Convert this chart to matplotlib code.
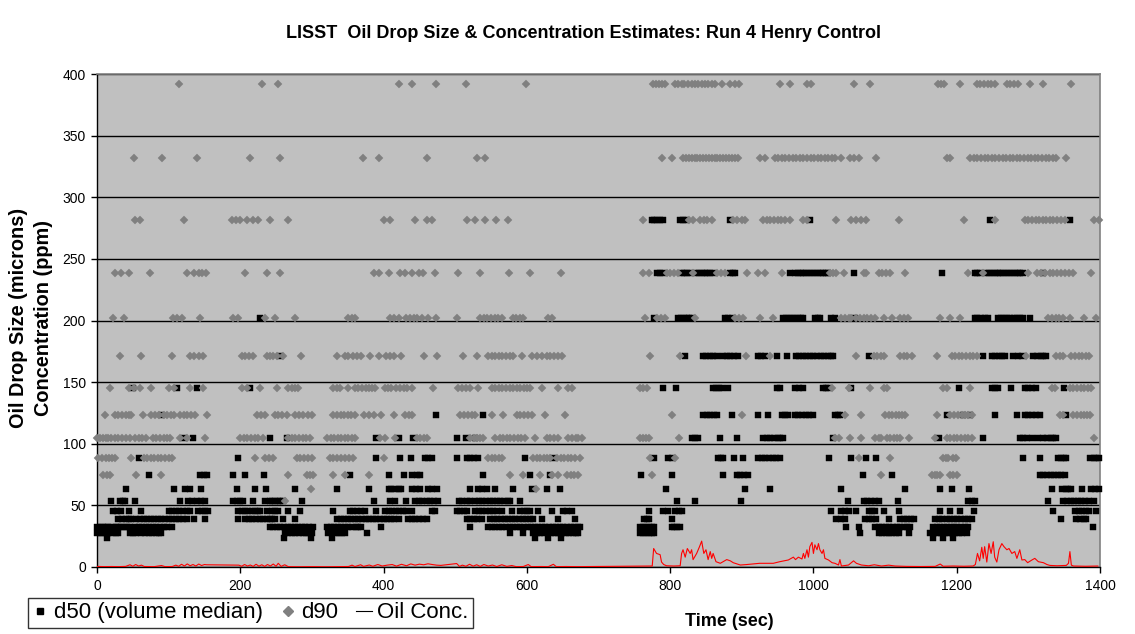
import matplotlib
matplotlib.use("Agg")
import matplotlib.pyplot as plt
from matplotlib.lines import Line2D

plt.rcParams['font.family'] = ['Liberation Sans', 'DejaVu Sans']

title = "LISST  Oil Drop Size & Concentration Estimates: Run 4 Henry Control"
y_label = "Oil Drop Size (microns)\nConcentration (ppm)"
x_label = "Time (sec)"
series_names = ["d50 (volume median)", "d90", "Oil Conc."]
x_ticks = [0, 200, 400, 600, 800, 1000, 1200, 1400]
y_ticks = [0, 50, 100, 150, 200, 250, 300, 350, 400]

# LISST size bins (microns) that the estimates fall on
size_bins = [392.0, 332.2, 281.5, 238.6, 202.2, 171.4, 145.2, 123.1, 104.3,
             88.4, 74.9, 63.5, 53.8, 45.6, 38.6, 32.7, 27.7, 23.5]

# ---- d90 : times (sec) at which d90 sits on each size bin ----
d90_392 = [114, 230, 252, 422, 439, 473, 515, 599, 776, 780, 785, 789, 793, 807, 811, 816, 820, 825, 830, 834, 839, 844, 848, 853, 858, 863, 872, 884, 890, 896, 953, 967, 991, 996, 1056, 1079, 1174, 1178, 1182, 1205, 1228, 1233, 1238, 1243, 1248, 1253, 1270, 1275, 1280, 1286, 1302, 1321, 1359]
d90_332 = [52, 91, 140, 213, 256, 371, 394, 460, 530, 541, 788, 802, 818, 822, 826, 830, 834, 838, 842, 846, 850, 854, 858, 862, 866, 870, 874, 878, 882, 886, 890, 895, 925, 932, 946, 951, 956, 961, 966, 971, 976, 981, 986, 991, 996, 1001, 1006, 1011, 1016, 1021, 1026, 1030, 1038, 1051, 1057, 1063, 1088, 1187, 1191, 1219, 1224, 1229, 1234, 1239, 1244, 1249, 1254, 1259, 1264, 1269, 1274, 1279, 1284, 1289, 1294, 1299, 1304, 1309, 1314, 1319, 1324, 1329, 1334, 1339, 1353]
d90_281 = [53, 60, 122, 188, 194, 200, 209, 218, 225, 241, 266, 400, 409, 444, 460, 467, 516, 527, 541, 557, 573, 762, 826, 832, 842, 847, 852, 858, 888, 894, 900, 905, 930, 935, 940, 945, 950, 955, 960, 967, 986, 991, 1032, 1053, 1060, 1067, 1074, 1119, 1210, 1253, 1295, 1300, 1305, 1310, 1315, 1320, 1325, 1330, 1335, 1340, 1345, 1351, 1391, 1398]
d90_238 = [25, 33, 44, 74, 125, 135, 142, 146, 152, 207, 237, 256, 386, 393, 407, 423, 430, 439, 449, 455, 472, 504, 535, 575, 605, 647, 762, 770, 795, 800, 806, 811, 832, 865, 871, 877, 907, 923, 932, 956, 1023, 1028, 1032, 1043, 1070, 1074, 1091, 1096, 1101, 1107, 1128, 1216, 1237, 1300, 1312, 1317, 1323, 1330, 1335, 1340, 1345, 1351, 1357, 1363, 1388]
d90_202 = [22, 37, 106, 112, 118, 144, 190, 197, 235, 248, 277, 351, 356, 360, 409, 415, 421, 432, 437, 442, 447, 453, 462, 473, 503, 535, 540, 545, 550, 555, 560, 565, 580, 585, 590, 594, 630, 635, 765, 781, 787, 793, 835, 890, 896, 902, 925, 944, 1039, 1044, 1049, 1053, 1060, 1065, 1070, 1075, 1080, 1086, 1098, 1110, 1121, 1126, 1132, 1177, 1191, 1205, 1328, 1333, 1338, 1343, 1349, 1358, 1377, 1395]
d90_171 = [32, 62, 104, 130, 136, 142, 148, 202, 207, 212, 218, 237, 241, 246, 251, 260, 285, 335, 346, 351, 357, 363, 369, 381, 393, 404, 409, 414, 425, 457, 474, 511, 530, 546, 551, 556, 561, 566, 571, 576, 581, 593, 607, 614, 621, 628, 633, 638, 643, 649, 772, 814, 906, 939, 1060, 1084, 1089, 1094, 1098, 1121, 1126, 1131, 1137, 1172, 1193, 1198, 1203, 1208, 1213, 1218, 1223, 1228, 1297, 1339, 1344, 1349, 1360, 1365, 1370, 1375, 1380, 1384]
d90_145 = [18, 44, 51, 60, 75, 100, 107, 130, 148, 202, 209, 227, 251, 267, 272, 277, 281, 330, 335, 339, 351, 360, 365, 370, 375, 380, 384, 388, 402, 406, 411, 418, 423, 428, 433, 439, 469, 504, 509, 515, 521, 532, 551, 556, 561, 566, 571, 576, 581, 586, 591, 596, 600, 604, 621, 644, 658, 663, 758, 762, 767, 1026, 1049, 1079, 1098, 1102, 1181, 1186, 1219, 1333, 1337, 1358, 1363, 1368, 1373, 1378, 1383, 1388]
d90_123 = [11, 25, 30, 35, 40, 44, 48, 64, 76, 81, 86, 94, 98, 103, 107, 116, 121, 126, 131, 137, 153, 223, 229, 235, 248, 253, 258, 265, 276, 282, 288, 294, 300, 330, 335, 340, 345, 350, 355, 360, 372, 379, 386, 397, 414, 430, 435, 439, 507, 512, 518, 523, 528, 551, 567, 586, 591, 596, 601, 607, 625, 653, 802, 900, 1044, 1066, 1100, 1105, 1110, 1115, 1120, 1124, 1128, 1172, 1191, 1196, 1202, 1207, 1212, 1216, 1221, 1344, 1348, 1363, 1368, 1373, 1378, 1382, 1386]
d90_104 = [0, 4, 8, 12, 16, 20, 25, 30, 35, 40, 46, 53, 58, 63, 69, 78, 83, 88, 93, 98, 102, 116, 125, 151, 200, 205, 210, 215, 220, 225, 232, 267, 272, 277, 282, 287, 292, 297, 321, 326, 331, 336, 341, 346, 351, 356, 360, 395, 402, 416, 446, 451, 456, 460, 521, 526, 531, 535, 539, 556, 562, 567, 572, 577, 582, 587, 592, 598, 611, 628, 633, 638, 644, 658, 663, 668, 672, 677, 758, 762, 766, 770, 813, 1030, 1035, 1051, 1067, 1086, 1091, 1095, 1102, 1107, 1112, 1116, 1121, 1133, 1170, 1186, 1191, 1196, 1201, 1206, 1211, 1216, 1221, 1392]
d90_88 = [2, 7, 12, 17, 21, 25, 48, 65, 70, 75, 80, 85, 90, 95, 100, 104, 221, 235, 240, 246, 279, 284, 289, 295, 300, 325, 330, 335, 340, 346, 352, 358, 400, 546, 551, 556, 561, 565, 609, 614, 619, 624, 628, 632, 642, 647, 652, 657, 662, 667, 674, 772, 807, 1063, 1107, 1181, 1185, 1188, 1195, 1199]
d90_75 = [9, 14, 18, 55, 89, 266, 293, 298, 302, 330, 346, 379, 576, 595, 618, 635, 644, 656, 661, 666, 672, 774, 1094, 1165, 1169, 1173, 1177, 1191, 1195, 1200]
d90_63 = [299, 613]
d90_54 = [262]
d90_46 = []
d90_39 = []
d90_33 = []
d90_28 = []
d90_23 = []

# ---- d50 : times (sec) at which d50 sits on each size bin ----
d50_392 = []
d50_332 = []
d50_281 = [774, 778, 782, 786, 790, 814, 818, 822, 884, 995, 1246, 1358]
d50_238 = [781, 786, 790, 816, 820, 824, 828, 836, 840, 844, 848, 852, 856, 860, 884, 888, 891, 967, 974, 978, 982, 986, 990, 994, 998, 1002, 1006, 1010, 1014, 1018, 1021, 1056, 1179, 1225, 1229, 1233, 1241, 1245, 1249, 1253, 1257, 1261, 1265, 1269, 1273, 1277, 1281, 1285, 1289, 1293, 1320]
d50_202 = [228, 777, 811, 815, 819, 823, 827, 830, 877, 881, 886, 958, 962, 966, 970, 974, 978, 982, 986, 1002, 1006, 1009, 1025, 1030, 1058, 1225, 1229, 1234, 1239, 1244, 1258, 1262, 1266, 1270, 1275, 1280, 1284, 1289, 1293, 1302]
d50_171 = [255, 821, 846, 850, 855, 860, 865, 874, 879, 884, 889, 895, 923, 927, 932, 949, 963, 976, 980, 985, 990, 995, 1000, 1005, 1010, 1015, 1020, 1025, 1028, 1077, 1237, 1249, 1254, 1259, 1263, 1267, 1279, 1285, 1291, 1307, 1312, 1317, 1321, 1325]
d50_145 = [50, 112, 139, 213, 790, 808, 860, 864, 868, 872, 881, 949, 953, 974, 980, 986, 1014, 1018, 1021, 1053, 1203, 1249, 1253, 1258, 1276, 1295, 1300, 1305, 1310, 1350]
d50_123 = [89, 473, 539, 846, 851, 856, 861, 865, 887, 923, 937, 956, 961, 965, 974, 979, 984, 989, 994, 1000, 1030, 1034, 1037, 1186, 1209, 1218, 1253, 1284, 1295, 1300, 1305, 1311, 1316, 1353]
d50_104 = [122, 134, 241, 265, 390, 421, 441, 502, 515, 528, 830, 834, 839, 870, 893, 930, 935, 940, 945, 950, 954, 958, 1028, 1175, 1236, 1288, 1293, 1298, 1305, 1313, 1321, 1326, 1331, 1335, 1339]
d50_88 = [58, 197, 390, 423, 438, 458, 462, 467, 502, 516, 521, 526, 532, 597, 637, 777, 797, 802, 867, 871, 874, 889, 901, 923, 928, 933, 938, 943, 948, 953, 1022, 1053, 1074, 1088, 1293, 1316, 1342, 1346, 1350, 1353, 1386, 1391, 1395, 1399]
d50_75 = [73, 144, 149, 153, 190, 207, 233, 353, 407, 428, 439, 446, 451, 539, 604, 632, 760, 802, 874, 893, 898, 903, 909, 1069, 1109, 1316, 1321, 1326, 1331, 1336, 1341, 1346, 1351]
d50_63 = [40, 107, 123, 130, 145, 196, 220, 236, 276, 335, 379, 407, 411, 416, 421, 425, 439, 445, 451, 462, 468, 474, 521, 532, 538, 544, 556, 581, 607, 628, 646, 794, 905, 939, 1039, 1128, 1177, 1193, 1217, 1333, 1347, 1352, 1356, 1360, 1375, 1388, 1393, 1398]
d50_54 = [20, 32, 36, 39, 53, 116, 127, 133, 139, 145, 151, 190, 195, 200, 204, 218, 235, 241, 244, 248, 252, 256, 260, 286, 386, 409, 416, 432, 444, 449, 454, 460, 465, 470, 476, 505, 510, 516, 521, 528, 533, 538, 543, 548, 553, 558, 563, 568, 573, 577, 591, 809, 834, 899, 1048, 1070, 1075, 1080, 1086, 1091, 1118, 1216, 1221, 1225, 1327, 1349, 1354, 1359, 1364, 1369, 1374, 1379, 1384, 1391]
d50_46 = [23, 28, 34, 44, 61, 100, 105, 110, 115, 120, 125, 130, 141, 146, 151, 155, 197, 202, 207, 211, 216, 221, 225, 228, 237, 244, 249, 253, 267, 284, 330, 353, 358, 363, 368, 374, 390, 402, 407, 412, 417, 422, 427, 432, 439, 468, 472, 502, 507, 512, 516, 528, 533, 538, 543, 548, 553, 558, 565, 579, 591, 596, 600, 604, 616, 635, 651, 656, 663, 770, 790, 797, 807, 812, 816, 1025, 1039, 1044, 1049, 1060, 1077, 1082, 1086, 1098, 1120, 1177, 1191, 1205, 1224, 1335, 1365, 1370, 1375, 1380, 1385, 1395]
d50_39 = [30, 35, 40, 44, 48, 55, 60, 65, 70, 75, 80, 85, 90, 95, 100, 105, 110, 115, 120, 125, 136, 151, 197, 207, 212, 217, 222, 227, 232, 237, 241, 244, 248, 260, 276, 335, 340, 345, 350, 355, 360, 365, 370, 375, 380, 385, 390, 395, 400, 405, 410, 415, 421, 434, 439, 444, 450, 455, 460, 516, 521, 526, 530, 537, 549, 554, 559, 564, 569, 574, 579, 584, 589, 594, 599, 604, 609, 621, 644, 667, 763, 767, 770, 802, 1032, 1038, 1044, 1072, 1077, 1082, 1088, 1105, 1121, 1126, 1131, 1136, 1140, 1170, 1175, 1180, 1186, 1191, 1196, 1201, 1206, 1211, 1216, 1221, 1346, 1367, 1372, 1377, 1381]
d50_33 = [0, 4, 8, 12, 16, 21, 26, 30, 34, 38, 42, 46, 53, 58, 63, 68, 73, 78, 83, 88, 93, 98, 104, 241, 246, 251, 256, 261, 266, 271, 276, 281, 286, 291, 296, 302, 321, 326, 331, 336, 341, 346, 351, 356, 361, 365, 369, 397, 521, 546, 551, 556, 561, 566, 571, 576, 581, 586, 591, 596, 601, 606, 611, 616, 621, 626, 631, 636, 641, 646, 651, 656, 661, 666, 671, 674, 758, 762, 766, 770, 774, 777, 802, 806, 810, 814, 1046, 1063, 1086, 1091, 1096, 1101, 1106, 1111, 1116, 1121, 1126, 1131, 1135, 1167, 1172, 1177, 1182, 1187, 1192, 1196, 1201, 1206, 1211, 1216, 1390]
d50_28 = [0, 4, 8, 12, 16, 21, 26, 30, 46, 50, 55, 62, 67, 72, 77, 82, 86, 90, 262, 267, 272, 277, 282, 287, 292, 296, 300, 323, 328, 333, 338, 342, 346, 377, 576, 594, 609, 614, 619, 624, 629, 634, 639, 644, 649, 654, 659, 664, 668, 672, 758, 762, 766, 770, 774, 777, 1065, 1091, 1096, 1101, 1106, 1110, 1115, 1119, 1133, 1163, 1168, 1173, 1178, 1183, 1188, 1193, 1198, 1203, 1208, 1214]
d50_23 = [14, 261, 299, 328, 611, 630, 648, 1167, 1181, 1195]

# ---- Oil concentration (ppm) ----
oil_time = [0, 10, 20, 30, 40, 46, 50, 54, 58, 62, 66, 80, 90, 95, 105, 110, 114, 118, 122, 126, 130, 134, 138, 142, 146, 150, 153,
            198, 202, 206, 210, 214, 218, 222, 226, 230, 234, 238, 242, 246, 250, 253, 257, 262, 267,
            280, 300, 320, 340, 351, 356, 360, 368, 372, 380, 385, 392, 398, 405, 412, 418, 425, 432, 438, 444, 450, 456, 462, 468, 474, 480,
            502, 506, 510, 515, 520, 525, 530, 535, 540, 546, 552, 558, 565, 572, 579, 585, 595, 602, 606, 620, 630, 637, 641, 655, 670, 760,
            770, 775, 777, 781, 786, 788, 791, 795, 805, 814, 816, 818, 821, 824, 828, 830, 832, 837, 841, 844, 847, 850, 853, 856, 858, 860, 864, 870, 879, 884, 888, 898, 907,
            925, 944, 953, 965, 972, 975, 979, 984, 986, 988, 991, 993, 995, 998, 1000, 1002, 1005, 1007, 1009, 1012, 1014, 1016, 1021, 1026, 1030, 1035, 1037, 1039,
            1049, 1056, 1060, 1067, 1077, 1085, 1095, 1105, 1114, 1130, 1150, 1170, 1177, 1181, 1195, 1210, 1223,
            1226, 1229, 1232, 1235, 1237, 1239, 1242, 1245, 1248, 1251, 1253, 1256, 1259, 1263, 1266, 1270, 1273, 1277, 1281, 1284, 1288, 1291, 1295, 1299, 1305, 1309, 1314, 1321, 1326, 1330, 1340, 1353, 1356, 1358, 1360, 1363, 1380, 1397]
oil_conc = [0.5, 0.3, 0.4, 0.3, 0.5, 1.8, 0.6, 2.0, 0.8, 1.5, 0.4, 0.3, 1.2, 0.3, 0.4, 1.5, 0.6, 2.2, 0.8, 2.5, 1.0, 2.0, 0.8, 2.4, 1.2, 2.0, 1.8,
            1.5, 0.6, 2.0, 0.8, 1.6, 0.5, 2.2, 0.7, 1.8, 0.5, 2.0, 0.8, 2.4, 0.6, 3.0, 0.5, 1.8, 0.3,
            0.2, 0.3, 0.2, 0.3, 0.4, 1.5, 0.4, 1.8, 0.5, 1.6, 0.6, 2.0, 0.8, 1.5, 2.0, 0.7, 2.2, 1.0, 2.5, 1.5, 2.3, 1.8, 2.6, 2.0, 1.5, 1.3,
            2.8, 0.5, 1.5, 0.6, 2.2, 0.7, 1.8, 0.5, 2.0, 0.8, 1.6, 0.4, 1.8, 0.5, 1.2, 0.3, 0.4, 2.0, 0.3, 0.4, 0.3, 2.2, 0.3, 0.4, 0.3, 0.8,
            0.8, 0.8, 15, 11, 10, 4, 2, 1, 0.8, 1, 11, 14, 8, 15, 11, 14, 6, 11, 16.5, 21, 11, 14, 6, 12.5, 7, 11, 4.3, 3, 6, 5, 3.5, 1.6, 2,
            3, 3, 4.3, 5.7, 8, 6, 8, 6.5, 11, 7, 14, 8, 16.5, 20, 11, 18, 14, 19, 14, 11, 14, 7, 5.7, 3.5, 3, 1.6, 6, 0.8,
            1.6, 5, 3, 1.6, 1, 1.8, 0.8, 1.5, 0.8, 0.5, 0.4, 0.5, 2.4, 0.6, 0.8, 0.6, 0.8,
            2, 11, 5, 16, 7, 16.5, 4, 19, 11, 20.5, 8, 4, 14, 19, 16.5, 14, 15, 11, 12.5, 7, 14, 5.7, 6, 3.5, 5.7, 7, 4.3, 3.5, 2, 1.3, 1, 1.3, 3, 12.5, 1.5, 0.8, 0.6, 0.8]
assert len(oil_time) == len(oil_conc)

d90_by_bin = [d90_392, d90_332, d90_281, d90_238, d90_202, d90_171, d90_145, d90_123, d90_104,
              d90_88, d90_75, d90_63, d90_54, d90_46, d90_39, d90_33, d90_28, d90_23]
d50_by_bin = [d50_392, d50_332, d50_281, d50_238, d50_202, d50_171, d50_145, d50_123, d50_104,
              d50_88, d50_75, d50_63, d50_54, d50_46, d50_39, d50_33, d50_28, d50_23]


def flatten(by_bin):
    xs, ys = [], []
    for size, times in zip(size_bins, by_bin):
        xs.extend(times)
        ys.extend([size] * len(times))
    return xs, ys


d50_x, d50_y = flatten(d50_by_bin)
d90_x, d90_y = flatten(d90_by_bin)

W, H = 1135, 634
fig = plt.figure(figsize=(W / 100, H / 100), dpi=100)
fig.patch.set_facecolor('white')
ax = fig.add_axes([97 / W, 1 - 567 / H, 1003 / W, 493 / H])
ax.set_facecolor('#C0C0C0')

ax.set_xlim(0, 1400)
ax.set_ylim(0, 400)
ax.set_xticks(x_ticks)
ax.set_yticks(y_ticks)
ax.yaxis.grid(True, color='black', linewidth=1.0)
ax.set_axisbelow(True)

gray = '#808080'
ax.plot(d50_x, d50_y, linestyle='none', marker='s', markersize=4.2,
        markerfacecolor='black', markeredgecolor='black', markeredgewidth=0.3,
        zorder=3, clip_on=False)
ax.plot(d90_x, d90_y, linestyle='none', marker='D', markersize=3.9,
        markerfacecolor=gray, markeredgecolor=gray, markeredgewidth=0.3,
        zorder=4, clip_on=False)
ax.plot(oil_time, oil_conc, color='red', linewidth=0.8, zorder=5)

for side in ['top', 'right']:
    ax.spines[side].set_color(gray)
    ax.spines[side].set_linewidth(1.2)
for side in ['left', 'bottom']:
    ax.spines[side].set_color('black')
    ax.spines[side].set_linewidth(1.0)
ax.tick_params(axis='both', direction='out', length=4, width=1, labelsize=10, colors='black')
ax.tick_params(axis='x', pad=5)
ax.tick_params(axis='y', pad=4)

fig.text(584 / W, 1 - 33 / H, title, ha='center', va='center', fontsize=13, fontweight='bold')
fig.text(31 / W, 1 - 318 / H, y_label, ha='center', va='center', rotation=90,
         fontsize=14.3, fontweight='bold', linespacing=1.4)
fig.text(729 / W, 1 - 621 / H, x_label, ha='center', va='center', fontsize=13, fontweight='bold')

handles = [
    Line2D([], [], linestyle='none', marker='s', markersize=5, color='black'),
    Line2D([], [], linestyle='none', marker='D', markersize=5, color=gray),
    Line2D([], [], color='black', linewidth=0.8),
]
leg = fig.legend(handles, series_names, loc='upper left', bbox_to_anchor=(28 / W, 1 - 598 / H),
                 ncol=3, fontsize=16, frameon=True, fancybox=False, handlelength=0.7,
                 handletextpad=0.25, columnspacing=0.8, borderpad=0.2, borderaxespad=0)
leg.get_frame().set_edgecolor('black')
leg.get_frame().set_linewidth(1.0)
leg.get_frame().set_facecolor('white')

fig.savefig('out.png', dpi=100)
